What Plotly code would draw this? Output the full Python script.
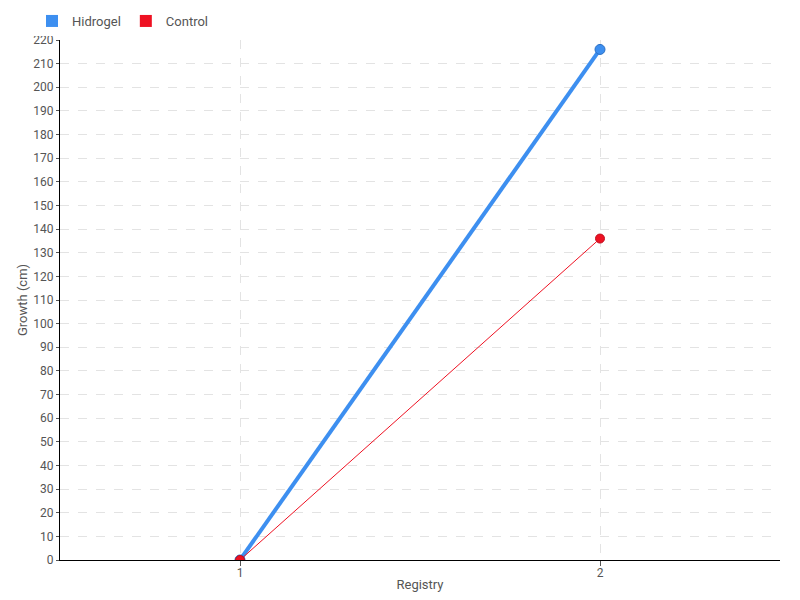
import plotly.graph_objects as go

registry = [1, 2]
hidrogel = [0, 216]
control = [0, 136]
y_ticks = list(range(0, 230, 10))

font_family = "Roboto, DejaVu Sans, sans-serif"
blue = "#3d8ff0"
red = "#ee1122"

# page body has an 8px margin, so the figure is sized/placed to compensate
W, H = 792, 592

fig = go.Figure()
fig.add_trace(go.Scatter(
    x=registry, y=hidrogel, mode="lines+markers", name="Hidrogel",
    line=dict(color=blue, width=4),
    marker=dict(color=blue, size=10, line=dict(color="#2a6fc4", width=1)),
    showlegend=False,
))
fig.add_trace(go.Scatter(
    x=registry, y=control, mode="lines+markers", name="Control",
    line=dict(color=red, width=1),
    marker=dict(color=red, size=9, line=dict(color="#c01020", width=1)),
    showlegend=False,
))
# legend entries with square swatches
fig.add_trace(go.Scatter(x=[None], y=[None], mode="markers", name="Hidrogel",
                         marker=dict(symbol="square", color=blue, size=6)))
fig.add_trace(go.Scatter(x=[None], y=[None], mode="markers", name="Control",
                         marker=dict(symbol="square", color=red, size=6)))

grid = dict(showgrid=True, gridcolor="#e3e3e3", griddash="dash", gridwidth=1)
fig.update_layout(
    width=W, height=H,
    margin=dict(l=52, r=20, t=32, b=40, autoexpand=False),
    paper_bgcolor="white", plot_bgcolor="white",
    font=dict(family=font_family, size=12, color="#555555"),
    legend=dict(orientation="h", xref="container", yref="container",
                x=24 / W, y=1 - 13 / H, xanchor="left", yanchor="middle",
                itemwidth=30, tracegroupgap=0, font=dict(size=13),
                itemsizing="constant"),
    xaxis=dict(range=[0.5, 2.5], tickvals=registry, ticktext=[str(v) for v in registry],
               showline=True, linecolor="black", linewidth=1, automargin=False,
               ticks="outside", ticklen=5, tickcolor="#555555", zeroline=False,
               ticklabelstandoff=-3,
               title=dict(text="Registry", standoff=0, font=dict(size=13)), **grid),
    yaxis=dict(range=[0, 220], tickvals=y_ticks, automargin=False,
               showline=True, linecolor="black", linewidth=1,
               ticks="outside", ticklen=3, tickcolor="#555555", zeroline=False,
               title=dict(text="Growth (cm)", standoff=2, font=dict(size=13)), **grid),
)
fig.write_html("out.html")
